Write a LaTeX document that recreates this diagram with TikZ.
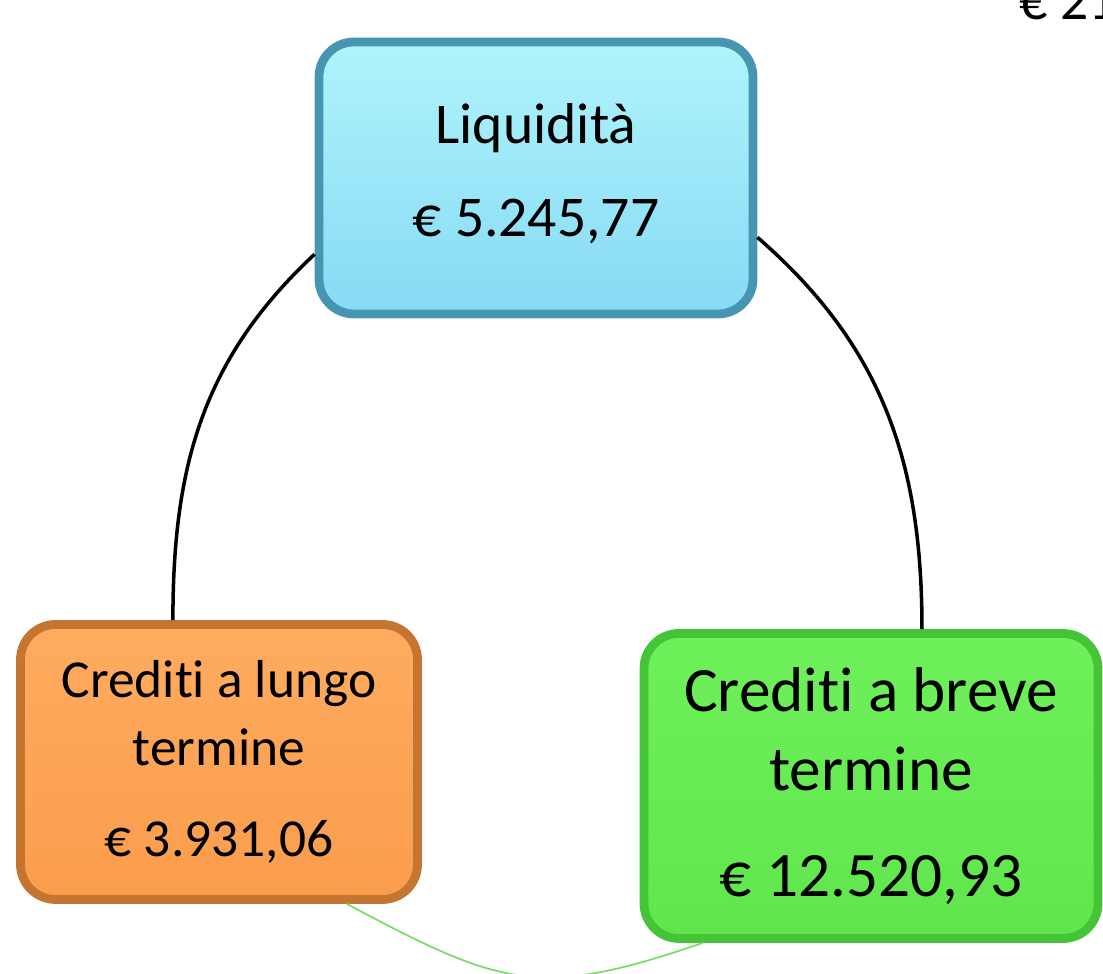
\documentclass[tikz,border=0pt]{standalone}
\usepackage{fontspec}
\setmainfont{Carlito}[Ligatures=NoCommon]
\usepackage{xcolor}
\usepackage{tikz}
\usetikzlibrary{positioning}

\definecolor{liqtop}{RGB}{176,244,252}
\definecolor{liqbot}{RGB}{134,218,244}
\definecolor{liqedge}{RGB}{70,150,178}
\definecolor{lungotop}{RGB}{255,172,96}
\definecolor{lungobot}{RGB}{250,156,76}
\definecolor{lungoedge}{RGB}{196,118,48}
\definecolor{brevetop}{RGB}{110,240,90}
\definecolor{brevebot}{RGB}{96,230,76}
\definecolor{breveedge}{RGB}{70,196,56}
\definecolor{ringgreen}{RGB}{120,222,104}

\begin{document}
\begin{tikzpicture}[box/.style={rectangle, rounded corners=0.35cm, line width=2.5pt, align=center, text=black},
				ring/.style={line width=1pt, black},
				looseness=1]
				\useasboundingbox (0,0) rectangle (11.03,9.74);
				\clip (0,0) rectangle (11.03,9.74);
				% boxes
				\node at (5.36,7.96) (liq) [box, draw=liqedge, top color=liqtop, bottom color=liqbot, minimum width=4.34cm, minimum height=2.72cm, font=\fontsize{16.4}{19.7}\selectfont] {Liquidità\\[6.7pt] € 5.245,77\\[-15.1pt]};
				\node at (2.19,2.12) (lungo) [box, draw=lungoedge, top color=lungotop, bottom color=lungobot, minimum width=3.97cm, minimum height=2.75cm, font=\fontsize{15.2}{19.3}\selectfont] {Crediti a lungo\\ termine\\[6.8pt] € 3.931,06};
				\node at (8.71,1.88) (breve) [box, draw=breveedge, top color=brevetop, bottom color=brevebot, minimum width=4.54cm, minimum height=3.05cm, font=\fontsize{18}{22.5}\selectfont] {Crediti a breve\\ termine\\[7.7pt] € 12.520,93};
				\node at (10.19,9.54) (tot) [anchor=base west, inner sep=0pt, font=\fontsize{15.8}{19}\selectfont] {€ 21};
				% cycle arcs
				\draw[ring] (liq.199) to [out=223, in=90] (lungo.108);
				\draw[ring] (liq.345) to [out=-41, in=90] (breve.72);
				\draw[ringgreen, line width=0.5pt] (lungo.312) to [out=-28, in=199, looseness=1.25] (breve.223);
			\end{tikzpicture}
\end{document}
